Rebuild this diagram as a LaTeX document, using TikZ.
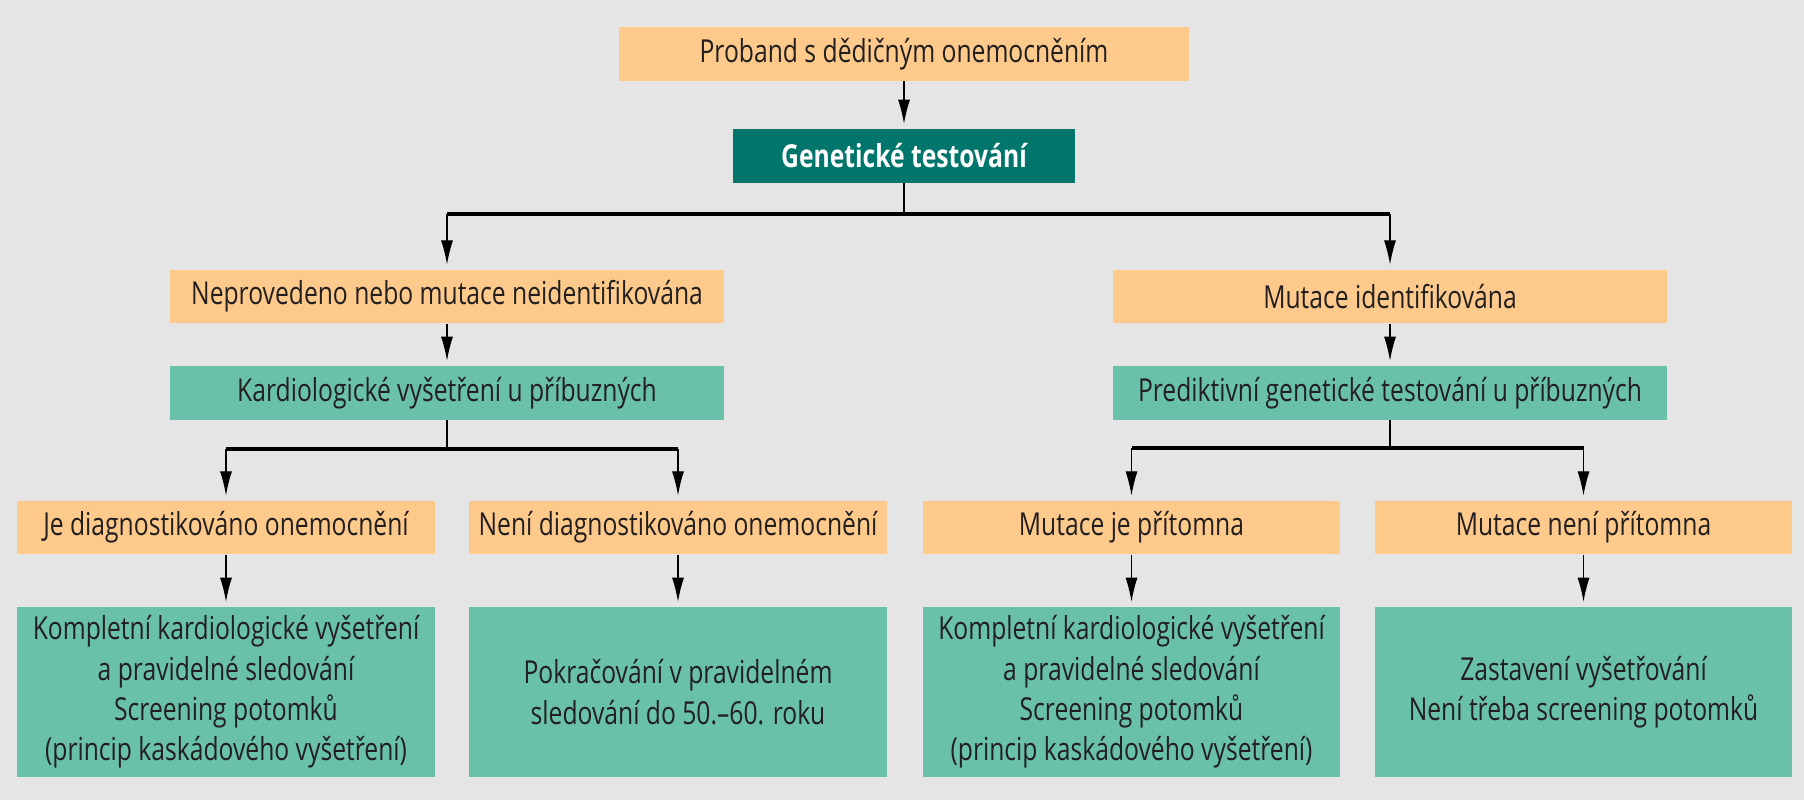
\documentclass[tikz,border=0pt]{standalone}
\usepackage{fontspec}
\setmainfont{Open Sans}[FakeStretch=0.78]
\usetikzlibrary{arrows.meta, positioning, calc}
\definecolor{cbg}{HTML}{E5E5E5}
\definecolor{corange}{HTML}{FDCA8B}
\definecolor{cteal}{HTML}{6AC1A9}
\definecolor{cdark}{HTML}{00756C}
\definecolor{ctext}{HTML}{231F20}
\tikzset{
  box/.style={inner sep=0pt, align=center, text=ctext, font=\fontsize{18}{23}\selectfont},
  obox/.style={box, fill=corange, minimum height=1.07cm},
  tbox/.style={box, fill=cteal},
  arr/.style={-{Latex[length=4.8mm,width=2.4mm]}, line width=0.6pt, shorten >=1mm},
  bar/.style={line width=1.8pt},
}
\begin{document}
\begin{tikzpicture}[x=0.02cm, y=-0.02cm]
  \fill[cbg] (0,0) rectangle (1804,800);
  \useasboundingbox (0,0) rectangle (1804,800);
  % top
  \node[obox, minimum width=11.42cm] (proband) at (904,54) {Proband s dědičným onemocněním};
  \node[box, fill=cdark, text=white, font=\fontsize{18}{23}\selectfont\bfseries,
        minimum width=6.84cm, minimum height=1.08cm] (gen) at (904,156) {Genetické testování};
  % second level
  \node[obox, minimum width=11.08cm] (neg) at (447,296.5) {Neprovedeno nebo mutace neidentifikována};
  \node[obox, minimum width=11.08cm] (pos) at (1390,296.5) {Mutace identifikována};
  \node[tbox, minimum width=11.08cm, minimum height=1.08cm] (kardio) at (447,393) {Kardiologické vyšetření u příbuzných};
  \node[tbox, minimum width=11.08cm, minimum height=1.08cm] (predikt) at (1390,393) {Prediktivní genetické testování u příbuzných};
  % third level
  \foreach \n/\x/\t in {dg/226/{Je diagnostikováno onemocnění},
                        ndg/678/{Není diagnostikováno onemocnění},
                        mp/1131.5/{Mutace je přítomna},
                        mnp/1583.5/{Mutace není přítomna}}{
    \node[obox, minimum width=8.36cm] (\n) at (\x,527.5) {\t};
  }
  \foreach \n/\x/\t in {dgr/226/{Kompletní kardiologické vyšetření\\a pravidelné sledování\\Screening potomků\\(princip kaskádového vyšetření)},
                        ndgr/678/{Pokračování v pravidelném\\sledování do 50.–60. roku},
                        mpr/1131.5/{Kompletní kardiologické vyšetření\\a pravidelné sledování\\Screening potomků\\(princip kaskádového vyšetření)},
                        mnpr/1583.5/{Zastavení vyšetřování\\Není třeba screening potomků}}{
    \node[tbox, minimum width=8.36cm, minimum height=3.4cm] (\n) at (\x,692) {\t};
  }
  % connectors
  \coordinate (b1) at (904,214);
  \coordinate (b2) at (447,449);
  \coordinate (b3) at (1390,448);
  \draw[arr] (proband) -- (gen);
  \draw[line width=0.6pt] (gen) -- (b1);
  \draw[bar] (b1 -| neg) -- (b1 -| pos);
  \draw[arr] (b1 -| neg) -- (neg);
  \draw[arr] (b1 -| pos) -- (pos);
  \draw[arr] (neg) -- (kardio);
  \draw[arr] (pos) -- (predikt);
  \draw[line width=0.6pt] (kardio) -- (b2);
  \draw[line width=0.6pt] (predikt) -- (b3);
  \draw[bar] (b2 -| dg) -- (b2 -| ndg);
  \draw[bar] (b3 -| mp) -- (b3 -| mnp);
  \draw[arr] (b2 -| dg) -- (dg);
  \draw[arr] (b2 -| ndg) -- (ndg);
  \draw[arr] (b3 -| mp) -- (mp);
  \draw[arr] (b3 -| mnp) -- (mnp);
  \foreach \n in {dg, ndg, mp, mnp}
    \draw[arr] (\n) -- (\n r);
\end{tikzpicture}
\end{document}
